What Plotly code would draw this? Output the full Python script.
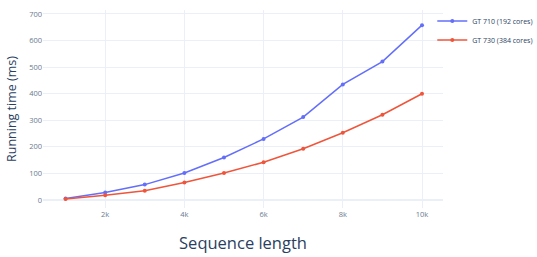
import plotly.graph_objects as go

seq_len = [1000, 2000, 3000, 4000, 5000, 6000, 7000, 8000, 9000, 10000]
gt710 = [6, 28, 58, 102, 160, 230, 312, 435, 521, 658]
gt730 = [4, 18, 35, 66, 102, 142, 193, 253, 321, 400]
names = ["GT 710 (192 cores)", "GT 730 (384 cores)"]

fig = go.Figure()
fig.add_trace(go.Scatter(x=seq_len, y=gt710, mode="lines+markers", name=names[0],
                         line=dict(color="#636efa", width=1.5), marker=dict(size=4)))
fig.add_trace(go.Scatter(x=seq_len, y=gt730, mode="lines+markers", name=names[1],
                         line=dict(color="#EF553B", width=1.5), marker=dict(size=4)))

fig.update_layout(
    template="plotly_white",
    width=537, height=257,
    margin=dict(l=43, r=94, t=10, b=49, autoexpand=False),
    font=dict(family="Open Sans", color="#2a3f5f"),
    legend=dict(font=dict(size=7), xref="container", yref="container", itemwidth=30,
                bgcolor="rgba(0,0,0,0)",
                x=0.805, y=0.975, xanchor="left", yanchor="top", tracegroupgap=0),
    xaxis=dict(range=[430, 10530], dtick=2000, tick0=0, tickfont=dict(size=7.5, color="#6b7a8f"),
               title=dict(text="Sequence length", font=dict(size=16.5), standoff=19), automargin=False),
    yaxis=dict(range=[-30, 715], dtick=100, tickfont=dict(size=7.5, color="#6b7a8f"),
               title=dict(text="Running time (ms)", font=dict(size=12.5), standoff=9), automargin=False),
)
fig.write_html("out.html")
